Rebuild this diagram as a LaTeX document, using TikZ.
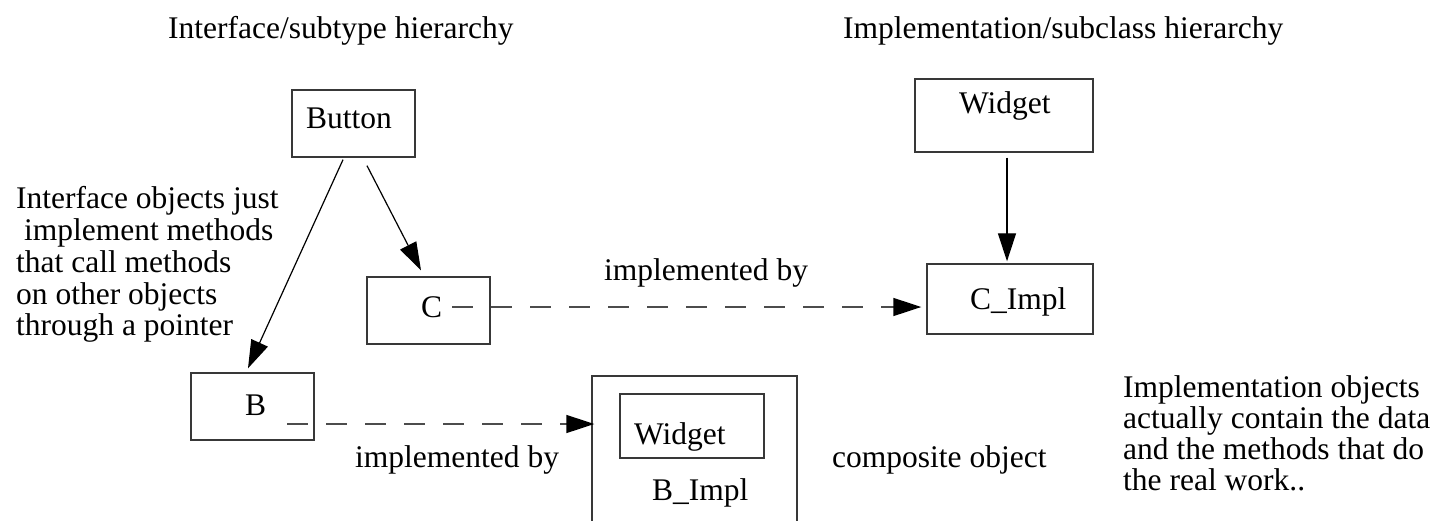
\documentclass[tikz,border=0pt]{standalone}
\usepackage{fontspec}
\setmainfont{Liberation Serif}
\usetikzlibrary{arrows.meta}
\begin{document}
\begin{tikzpicture}[x=1pt,y=-1pt,
  box/.style={draw=black!78, line width=1.4pt, rectangle, inner sep=0pt},
  lbl/.style={inner sep=0pt, anchor=base west, font=\fontsize{31.5}{31.5}\selectfont},
  note/.style={inner sep=0pt, anchor=north west, align=left},
  solidarrow/.style={line width=1.2pt, -{Triangle[length=28pt,width=18pt]}},
  dasharrow/.style={line width=1.4pt, draw=black!70, dash pattern=on 21pt off 18pt,
    -{Triangle[length=28pt,width=18pt,color=black]}},
]
\useasboundingbox (0,0) rectangle (1437,520);

% titles
\node[lbl] (t1) at (168,38) {Interface/subtype hierarchy};
\node[lbl] (t2) at (843,38) {Implementation/subclass hierarchy};

% boxes
\node[box, minimum width=123pt, minimum height=67pt] (button) at (353.5,123.5) {};
\node[lbl] (buttontxt) at (306,128) {Button};

\node[box, minimum width=123pt, minimum height=67pt] (c) at (428.5,310.5) {};
\node[lbl] (ctxt) at (421,317) {C};

\node[box, minimum width=123pt, minimum height=67pt] (b) at (252.5,406.5) {};
\node[lbl] (btxt) at (245,415) {B};

\node[box, minimum width=178pt, minimum height=73pt] (widget) at (1004,115.5) {};
\node[lbl] (widgettxt) at (959,113) {Widget};

\node[box, minimum width=166pt, minimum height=70pt] (cimpl) at (1010,299) {};
\node[lbl] (cimpltxt) at (970,309) {C\_Impl};

\node[box, minimum width=205pt, minimum height=154pt] (bimpl) at (694.5,453) {};
\node[box, minimum width=144pt, minimum height=64pt] (inwidget) at (692,426) {};
\node[lbl] (inwidgettxt) at (634,444) {Widget};
\node[lbl] (bimpltxt) at (652,500) {B\_Impl};

% labels
\node[lbl] (impl1) at (604,280) {implemented by};
\node[lbl] (impl2) at (355,467) {implemented by};
\node[lbl] (comp) at (832,467) {composite object};

\node[note, font=\fontsize{31.5}{31.75}\selectfont] (leftnote) at (16,186.5)
  {Interface objects just\\\hspace*{0.25em}implement methods\\that call methods\\on other objects\\through a pointer};
\node[note, font=\fontsize{31.5}{31}\selectfont] (rightnote) at (1123,375)
  {Implementation objects\\actually contain the data\\and the methods that do\\the real work..};

% connectors
\draw[solidarrow] ([xshift=-10.5pt,yshift=-2pt]button.south) -- ([xshift=-4.5pt,yshift=4pt]b.north);
\draw[solidarrow] ([xshift=13.5pt,yshift=-8pt]button.south) -- ([xshift=-7.5pt,yshift=6pt]c.north);
\draw[solidarrow] ([xshift=3pt,yshift=-5pt]widget.south) -- ([xshift=-3pt,yshift=2pt]cimpl.north);

\coordinate (cout) at (452,307);
\coordinate (bout) at (287,424);
\draw[dasharrow, shorten >=5pt] (cout) -- (cout -| cimpl.west);
\draw[dasharrow, shorten >=-3pt] (bout) -- (bout -| bimpl.west);
\end{tikzpicture}
\end{document}
